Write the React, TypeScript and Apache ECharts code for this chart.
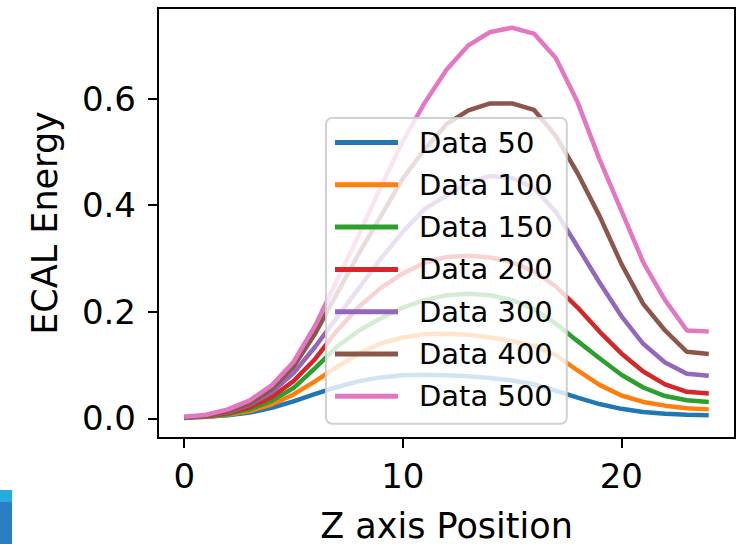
import React, { useEffect, useRef } from "react";
import * as echarts from "echarts";

const zPositions = [0, 1, 2, 3, 4, 5, 6, 7, 8, 9, 10, 11, 12, 13, 14, 15, 16, 17, 18, 19, 20, 21, 22, 23, 24];

const data50 = [0.001, 0.003, 0.006, 0.011, 0.02, 0.032, 0.046, 0.059, 0.07, 0.077, 0.081, 0.082, 0.081, 0.079, 0.076, 0.071, 0.064, 0.052, 0.039, 0.027, 0.018, 0.012, 0.009, 0.007, 0.006];
const data100 = [0.002, 0.003, 0.007, 0.014, 0.026, 0.045, 0.07, 0.097, 0.122, 0.141, 0.152, 0.158, 0.159, 0.157, 0.152, 0.145, 0.136, 0.119, 0.09, 0.063, 0.043, 0.031, 0.024, 0.019, 0.017];
const data150 = [0.002, 0.004, 0.008, 0.017, 0.033, 0.057, 0.095, 0.135, 0.165, 0.188, 0.208, 0.222, 0.231, 0.234, 0.231, 0.222, 0.205, 0.178, 0.145, 0.113, 0.082, 0.058, 0.042, 0.034, 0.031];
const data200 = [0.002, 0.004, 0.01, 0.021, 0.04, 0.07, 0.112, 0.165, 0.21, 0.245, 0.272, 0.292, 0.303, 0.305, 0.302, 0.293, 0.276, 0.248, 0.208, 0.163, 0.122, 0.088, 0.064, 0.05, 0.047];
const data300 = [0.002, 0.005, 0.012, 0.026, 0.049, 0.085, 0.135, 0.19, 0.245, 0.3, 0.35, 0.393, 0.418, 0.443, 0.455, 0.451, 0.432, 0.388, 0.322, 0.255, 0.192, 0.14, 0.105, 0.084, 0.08];
const data400 = [0.002, 0.005, 0.013, 0.028, 0.055, 0.097, 0.16, 0.235, 0.31, 0.38, 0.45, 0.505, 0.552, 0.578, 0.591, 0.591, 0.579, 0.53, 0.46, 0.38, 0.29, 0.215, 0.165, 0.125, 0.121];
const data500 = [0.003, 0.007, 0.017, 0.034, 0.062, 0.106, 0.175, 0.26, 0.345, 0.435, 0.52, 0.592, 0.654, 0.7, 0.725, 0.733, 0.722, 0.676, 0.593, 0.486, 0.39, 0.293, 0.222, 0.165, 0.163];

const seriesNames = ["Data 50", "Data 100", "Data 150", "Data 200", "Data 300", "Data 400", "Data 500"];
const seriesValues = [data50, data100, data150, data200, data300, data400, data500];
const seriesColors = ["#1f77b4", "#ff7f0e", "#2ca02c", "#d62728", "#9467bd", "#8c564b", "#e377c2"];

const xTicks = [0, 10, 20];
const yTicks = [0, 0.2, 0.4, 0.6];

const FONT = "'DejaVu Sans', sans-serif";

export default function App() {
  const ref = useRef<HTMLDivElement>(null);
  useEffect(() => {
    if (!ref.current) return;
    const chart = echarts.init(ref.current, null, { renderer: "svg" });
    const option: any = {
      animation: false,
      backgroundColor: "#ffffff",
      grid: {
        left: 158,
        right: 3,
        top: 8,
        bottom: 106,
        show: true,
        borderColor: "#000",
        borderWidth: 2,
        backgroundColor: "transparent",
        containLabel: false,
        outerBoundsMode: "none",
      },
      xAxis: {
        type: "value",
        min: -1.2,
        max: 25.2,
        name: "Z axis Position",
        nameLocation: "middle",
        nameGap: 70,
        nameTextStyle: { fontFamily: FONT, fontSize: 35, color: "#000" },
        axisLine: { show: true, onZero: false, lineStyle: { color: "#000", width: 2 } },
        axisTick: { show: true, customValues: xTicks, length: 10, lineStyle: { color: "#000", width: 2 } },
        axisLabel: {
          customValues: xTicks,
          margin: 21,
          fontFamily: FONT,
          fontSize: 34,
          color: "#000",
          formatter: (v: number) => String(v),
        },
        splitLine: { show: false },
      },
      yAxis: {
        type: "value",
        min: -0.0367,
        max: 0.77,
        name: "ECAL Energy",
        nameLocation: "middle",
        nameGap: 96,
        nameTextStyle: { fontFamily: FONT, fontSize: 35, color: "#000" },
        axisLine: { show: true, onZero: false, lineStyle: { color: "#000", width: 2 } },
        axisTick: { show: true, customValues: yTicks, length: 10, lineStyle: { color: "#000", width: 2 } },
        axisLabel: {
          customValues: yTicks,
          margin: 22,
          fontFamily: FONT,
          fontSize: 34,
          color: "#000",
          formatter: (v: number) => v.toFixed(1),
        },
        splitLine: { show: false },
      },
      legend: {
        show: true,
        orient: "vertical",
        left: 326,
        top: 118,
        data: seriesNames,
        icon: "rect",
        itemWidth: 63,
        itemHeight: 5,
        itemGap: 13.3,
        padding: [10, 14, 13, 9],
        backgroundColor: "rgba(255,255,255,0.8)",
        borderColor: "rgba(204,204,204,0.9)",
        borderWidth: 2,
        borderRadius: 6,
        textStyle: {
          fontFamily: FONT,
          fontSize: 29,
          lineHeight: 28,
          color: "#000",
          padding: [0, 0, 0, 16],
        },
      },
      series: seriesNames.map((name, k) => ({
        name,
        type: "line",
        data: zPositions.map((z, i) => [z, seriesValues[k][i]]),
        symbol: "none",
        color: seriesColors[k],
        lineStyle: { width: 4.5, color: seriesColors[k] },
        itemStyle: { color: seriesColors[k] },
        z: 2,
      })),
      graphic: [
        { type: "rect", left: 0, top: 490, shape: { width: 12, height: 12 }, style: { fill: "#25aae1" } },
        { type: "rect", left: 0, top: 502, shape: { width: 12, height: 42 }, style: { fill: "#2a7ec2" } },
      ],
    };
    chart.setOption(option);
    return () => chart.dispose();
  }, []);
  return (
    <div
      ref={ref}
      style={{ position: "fixed", left: 0, top: 0, width: 738, height: 544 }}
    />
  );
}
